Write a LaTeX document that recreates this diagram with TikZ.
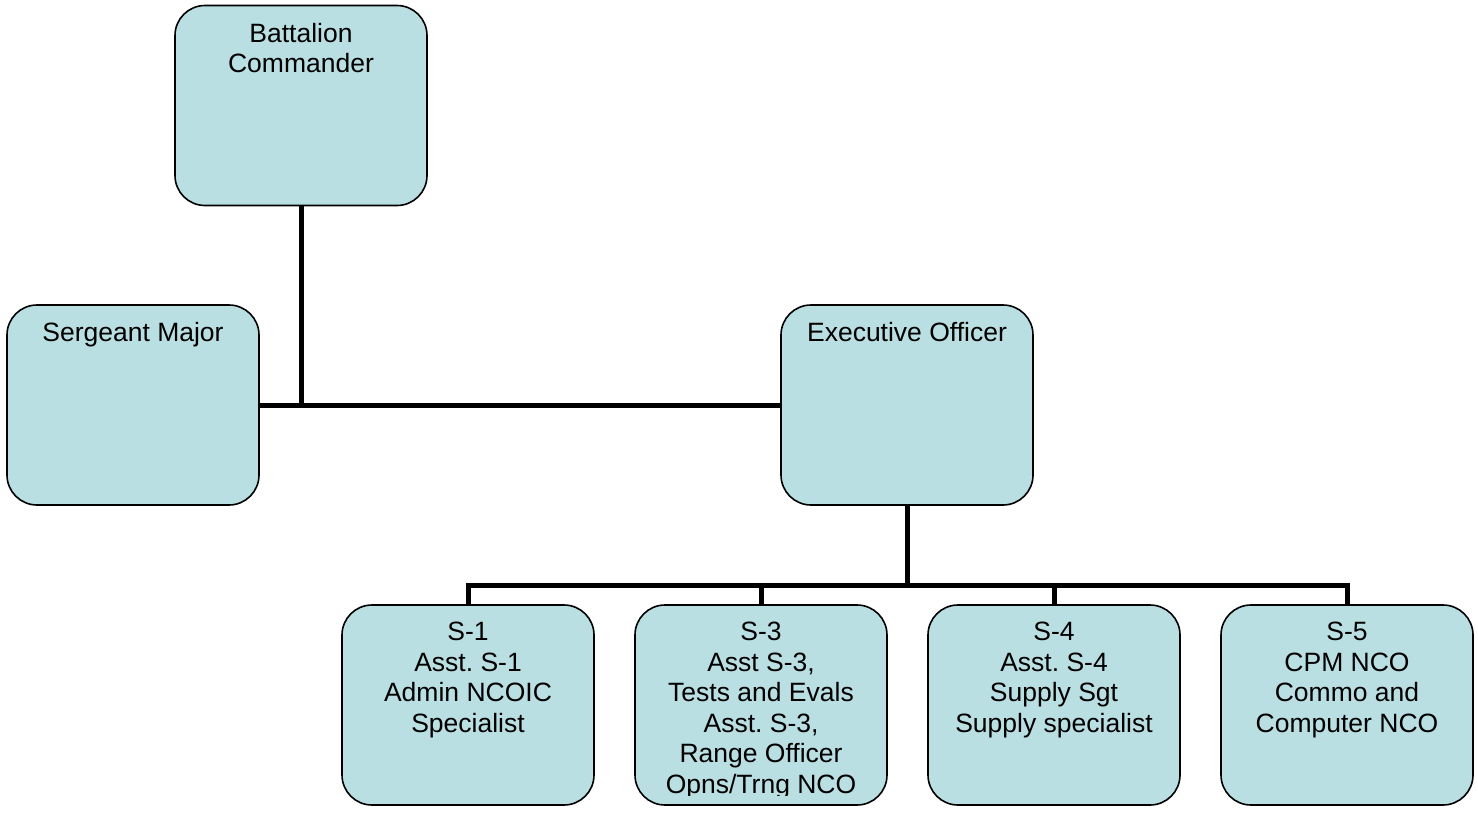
\documentclass[tikz,border=0pt]{standalone}
\usepackage{fontspec}
\setmainfont{Liberation Sans}
\frenchspacing
\definecolor{boxfill}{HTML}{B9DFE3}
\tikzset{
  orgbox/.style={draw=black, line width=1.6pt, fill=boxfill, rounded corners=30pt,
    minimum width=252pt, minimum height=200pt, inner sep=0pt},
  orgtext/.style={anchor=north, align=center, inner sep=0pt,
    font=\fontsize{26.5}{30.5}\selectfont},
  link/.style={line width=5pt}
}
\begin{document}
\begin{tikzpicture}[x=1pt,y=-1pt]
\useasboundingbox (0,0) rectangle (1478,814);
% boxes
\node[orgbox] (bc) at (301,105.5) {};
\node[orgbox] (sm) at (133,405) {};
\node[orgbox] (xo) at (907,405) {};
\node[orgbox] (s1) at (468,705) {};
\node[orgbox] (s3) at (761,705) {};
\node[orgbox] (s4) at (1054,705) {};
\node[orgbox] (s5) at (1347,705) {};
\coordinate (bus) at (0,585);
% connectors
\draw[link] (bc.south) -- (bc.south |- sm.east);
\draw[link] (sm.east) -- (xo.west);
\draw[link] (xo.south) -- (xo.south |- bus);
\draw[link] (s1.north) -- (s1.north |- bus) -- (s5.north |- bus) -- (s5.north);
\draw[link] (s3.north |- bus) -- (s3.north);
\draw[link] (s4.north |- bus) -- (s4.north);
% texts
\node[orgtext] (bct) at ([yshift=-18pt]bc.north) {Battalion\\Commander};
\node[orgtext] (smt) at ([yshift=-18pt]sm.north) {Sergeant Major};
\node[orgtext] (xot) at ([yshift=-18pt]xo.north) {Executive Officer};
\node[orgtext] (s1t) at ([yshift=-18pt]s1.north) {S-1\\Asst. S-1\\Admin NCOIC\\Specialist};
\begin{scope}
  \clip ([xshift=2pt]s3.north west) rectangle ([yshift=10pt,xshift=-2pt]s3.south east);
  \node[orgtext] (s3t) at ([yshift=-18pt]s3.north) {S-3\\Asst S-3,\\Tests and Evals\\Asst. S-3,\\Range Officer\\Opns/Trng NCO};
\end{scope}
\node[orgtext] (s4t) at ([yshift=-18pt]s4.north) {S-4\\Asst. S-4\\Supply Sgt\\Supply specialist};
\node[orgtext] (s5t) at ([yshift=-18pt]s5.north) {S-5\\CPM NCO\\Commo and\\Computer NCO};
\end{tikzpicture}
\end{document}
